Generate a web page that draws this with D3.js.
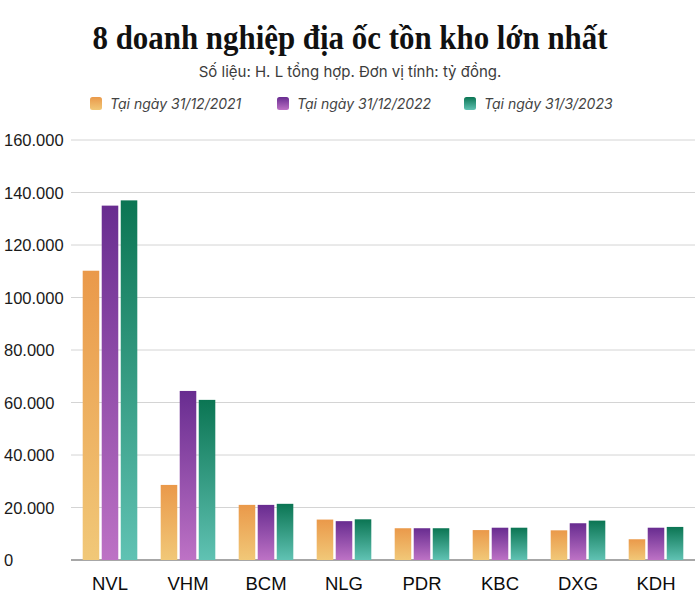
<!DOCTYPE html>
<html><head><meta charset="utf-8">
<script src="https://cdn.jsdelivr.net/npm/d3@7"></script>
<style>
body{margin:0;background:#fff;}
svg{display:block;}
</style></head>
<body><div id="chart"></div>
<script>
const categories = ["NVL","VHM","BCM","NLG","PDR","KBC","DXG","KDH"];
const seriesNames = ["Tại ngày 31/12/2021","Tại ngày 31/12/2022","Tại ngày 31/3/2023"];
const values2021 = [110200, 28600, 21000, 15400, 12100, 11400, 11300, 7900];
const values2022 = [135000, 64400, 21000, 14800, 12100, 12300, 14000, 12300];
const values2023 = [137000, 61000, 21400, 15500, 12100, 12300, 15000, 12600];
const yTicks = [0, 20000, 40000, 60000, 80000, 100000, 120000, 140000, 160000];
const title = "8 doanh nghiệp địa ốc tồn kho lớn nhất";
const subtitle = "Số liệu: H. L tổng hợp. Đơn vị tính: tỷ đồng.";

const seriesValues = [values2021, values2022, values2023];
const gradStops = [["#ea994a","#f1c878"],["#682c90","#bd72c5"],["#0b7553","#60c2b3"]];

const W = 700, H = 614;
const svg = d3.select("#chart").append("svg").attr("width", W).attr("height", H);
const defs = svg.append("defs");
gradStops.forEach((c, i) => {
  const g = defs.append("linearGradient").attr("id", "g" + i)
    .attr("x1", 0).attr("y1", 0).attr("x2", 0).attr("y2", 1);
  g.append("stop").attr("offset", "0%").attr("stop-color", c[0]);
  g.append("stop").attr("offset", "100%").attr("stop-color", c[1]);
});

svg.append("text").attr("x", 350).attr("y", 49).attr("text-anchor", "middle")
  .attr("font-family", "'Liberation Serif', 'DejaVu Serif', serif")
  .attr("font-weight", "bold").attr("font-size", 33).attr("fill", "#111")
  .attr("textLength", 515).attr("lengthAdjust", "spacingAndGlyphs")
  .text(title);
svg.append("text").attr("x", 350).attr("y", 77).attr("text-anchor", "middle")
  .attr("font-family", "Inter, 'Noto Sans', sans-serif")
  .attr("font-size", 15).attr("fill", "#3c3c3c").text(subtitle);

const legendX = [90, 277, 464];
seriesNames.forEach((s, i) => {
  const lg = svg.append("g").attr("transform", `translate(${legendX[i]},97)`);
  lg.append("rect").attr("width", 12).attr("height", 13).attr("rx", 2.5).attr("fill", `url(#g${i})`);
  lg.append("text").attr("x", 20).attr("y", 12)
    .attr("font-family", "Inter, 'Noto Sans', sans-serif").attr("font-style", "italic")
    .attr("font-size", 14).attr("fill", "#444").text(s);
});

const y = d3.scaleLinear().domain([0, 160000]).range([560, 140]);
const x0 = d3.scaleBand().domain(categories).range([71, 695]).paddingInner(0.3).paddingOuter(0.15);
const x1 = d3.scaleBand().domain(d3.range(3)).range([0, x0.bandwidth()]).paddingInner(0.13).paddingOuter(0);

const fmt = v => d3.format(",")(v).replace(/,/g, ".");
const grid = svg.append("g");
yTicks.forEach(t => {
  grid.append("line").attr("x1", 71).attr("x2", 695).attr("y1", y(t)).attr("y2", y(t))
    .attr("stroke", t === 0 ? "#8a8a8a" : "#d4d4d4").attr("stroke-width", t === 0 ? 1.5 : 1);
  grid.append("text").attr("x", 4).attr("y", y(t) + 6)
    .attr("font-family", "'Liberation Sans', Arial, sans-serif").attr("font-size", 16.5)
    .attr("fill", "#1a1a1a").text(fmt(t));
});

const groups = svg.append("g").selectAll("g").data(categories).join("g")
  .attr("transform", d => `translate(${x0(d)},0)`);
groups.selectAll("rect").data((d, ci) => seriesValues.map((arr, si) => ({si, v: arr[ci]})))
  .join("rect")
  .attr("x", d => x1(d.si)).attr("width", x1.bandwidth())
  .attr("y", d => y(d.v)).attr("height", d => y(0) - y(d.v))
  .attr("fill", d => `url(#g${d.si})`);

svg.append("g").selectAll("text").data(categories).join("text")
  .attr("x", d => x0(d) + x0.bandwidth() / 2).attr("y", 590).attr("text-anchor", "middle")
  .attr("font-family", "'Liberation Sans', Arial, sans-serif").attr("font-size", 18.5)
  .attr("fill", "#0d0d0d").text(d => d);
</script>
</body></html>
